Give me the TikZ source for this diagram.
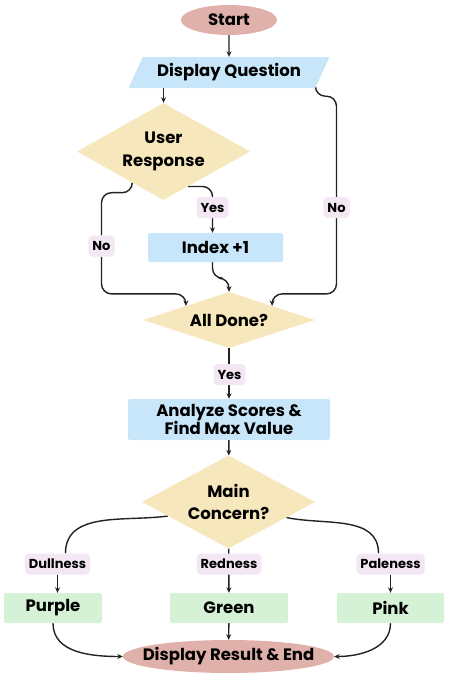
\documentclass[tikz,border=0pt]{standalone}
\usepackage{fontspec}
\setmainfont{Poppins}
\usetikzlibrary{shapes.geometric,arrows.meta,positioning}
\definecolor{termred}{HTML}{E0B0AB}
\definecolor{ioblue}{HTML}{C8E6FA}
\definecolor{decyellow}{HTML}{F6E7BC}
\definecolor{resgreen}{HTML}{D6F2D6}
\definecolor{lblpink}{HTML}{F2E7F3}
\definecolor{linegray}{HTML}{222222}
\pgfdeclarelayer{bg}
\pgfsetlayers{bg,main}

\begin{document}
\begin{tikzpicture}
        [x=1pt,y=1pt,>={Stealth[length=5.5pt,width=5pt]},
        term/.style={ellipse,fill=termred,inner sep=0pt,font=\bfseries\fontsize{16.5}{18}\selectfont},
        io/.style={trapezium,trapezium left angle=51,trapezium right angle=129,trapezium stretches body,
            fill=ioblue,inner sep=0pt,font=\bfseries\fontsize{16.5}{18}\selectfont},
        dec/.style={diamond,fill=decyellow,inner sep=0pt,align=center,shape aspect=1.8,font=\bfseries\fontsize{16.5}{22.5}\selectfont},
        proc/.style={rectangle,rounded corners=2pt,fill=ioblue,inner sep=0pt,align=center,font=\bfseries\fontsize{16.5}{16}\selectfont},
        res/.style={rectangle,rounded corners=2pt,fill=resgreen,inner sep=0pt,font=\bfseries\fontsize{16.5}{18}\selectfont},
        lbl/.style={rectangle,rounded corners=4pt,fill=lblpink,inner xsep=4pt,inner ysep=0pt,minimum height=21pt,font=\bfseries\fontsize{13}{15}\selectfont},
        flow/.style={->,draw=linegray,line width=1.4pt,rounded corners=10pt}]
        \useasboundingbox (0,0) rectangle (448,-680);
        % shapes
        \node[term,minimum width=96pt,minimum height=30pt] (start) at (229,-20) {Start};
        \node[io,minimum width=201pt,minimum height=31pt] (dq) at (229,-72.5) {Display Question};
        \node[dec,minimum width=173pt,minimum height=97pt] (ur) at (163.5,-151.5) {User\\Response};
        \node[proc,minimum width=135pt,minimum height=29pt] (ix) at (215.5,-247.5) {Index +1};
        \node[dec,minimum width=172pt,minimum height=56pt,shape aspect=3] (ad) at (229,-320) {All Done?};
        \node[proc,minimum width=202pt,minimum height=41pt] (an) at (229,-419.5) {Analyze Scores \&\\Find Max Value};
        \node[dec,minimum width=173pt,minimum height=93pt] (mc) at (228.5,-502) {Main\\Concern?};
        \node[res,minimum width=98pt,minimum height=30pt] (pu) at (53,-608) {Purple};
        \node[res,minimum width=118pt,minimum height=30pt] (gr) at (229,-608) {Green};
        \node[res,minimum width=107pt,minimum height=30pt] (pk) at (390.5,-608) {Pink};
        \node[term,inner xsep=-14pt,minimum width=211pt,minimum height=33pt] (en) at (228.5,-656.5) {Display Result \& End};
        % labels
        \node[lbl] (nol) at (101.5,-246) {No};
        \node[lbl] (yesl) at (212.5,-207.5) {Yes};
        \node[lbl] (nor) at (336.5,-207.5) {No};
        \node[lbl] (yesd) at (229.5,-374.5) {Yes};
        \node[lbl] (dul) at (57.5,-564) {Dullness};
        \node[lbl] (red) at (229,-564) {Redness};
        \node[lbl] (pal) at (390.5,-564) {Paleness};
        % connectors
        \begin{pgfonlayer}{bg}
        \draw[flow] (start) -- (dq);
        \draw[flow] (dq.south -| ur.north) -- (ur.north);
        \draw[flow] (ur.-135) -- ++(0,-10) -| (nol) |- ([yshift=12pt]ad.north west) -- (ad.north west);
        \draw[flow] (ur.-55) -| (yesl) -- (yesl |- ix.north);
        \draw[flow] (yesl |- ix.south) -- ++(0,-16) -| (ad.north);
        \draw[flow] (dq.bottom right corner) -- ++(0,-8) -| (nor) |- ([yshift=12pt]ad.north east) -- (ad.north east);
        \draw[flow] (ad) -- (an);
        \draw[flow] (an) -- (mc);
        \draw[flow,-] (mc.-167) to[out=188,in=90] ([xshift=8pt]dul.north);
        \draw[flow] (dul) -- (dul |- pu.north);
        \draw[flow] (mc) -- (gr);
        \draw[flow,-] (mc.-15) to[out=-12,in=90] ([xshift=-12pt]pal.north);
        \draw[flow] (pal) -- (pal |- pk.north);
        \draw[flow] (pu) to[out=-90,in=180] (en);
        \draw[flow] (gr) -- (en);
        \draw[flow] (pk) to[out=-90,in=0] (en);
        \end{pgfonlayer}
\end{tikzpicture}
\end{document}
